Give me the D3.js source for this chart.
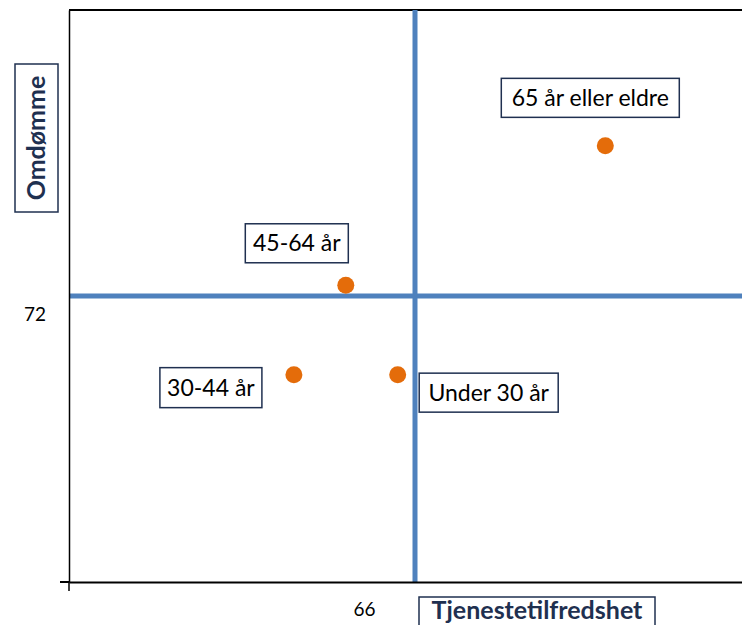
<!DOCTYPE html>
<html>
<head>
<meta charset="utf-8">
<script src="https://cdn.jsdelivr.net/npm/d3@7"></script>
<style>
  html, body { margin: 0; padding: 0; background: #fff; }
  svg { display: block; font-family: Lato, "Open Sans", sans-serif; }
</style>
</head>
<body>
<svg id="chart" width="742" height="625"></svg>
<script>
// Age groups plotted by service satisfaction (x) against reputation (y)
const ageGroups = ["Under 30 år", "30-44 år", "45-64 år", "65 år eller eldre"];
const tjenestetilfredshet = [65.6, 63.2, 64.4, 70.4];
const omdomme = [69.8, 69.8, 72.3, 76.2];

// Quadrant dividers (averages) and their tick labels
const xDivider = 66;
const yDivider = 72;
const xTickLabels = ["66"];
const yTickLabels = ["72"];

const xTitle = "Tjenestetilfredshet";
const yTitle = "Omdømme";

// Placement of each group's label box relative to its point
const labelLayout = {
  "Under 30 år":       { dx: 91,  dy: 18,  w: 139, h: 39 },
  "30-44 år":          { dx: -83, dy: 13,  w: 102, h: 40 },
  "45-64 år":          { dx: -49, dy: -42, w: 103, h: 39 },
  "65 år eller eldre": { dx: -15, dy: -48, w: 178, h: 39 }
};

const svg = d3.select("#chart");
const plotLeft = 69, plotTop = 10, plotBottom = 582, plotRight = 761;

const x = d3.scaleLinear().domain([58, 74]).range([plotLeft, plotRight]);
const y = d3.scaleLinear().domain([64, 80]).range([plotBottom, plotTop]);

const points = ageGroups.map((g, i) => ({ group: g, x: tjenestetilfredshet[i], y: omdomme[i] }));

// Plot frame (top edge)
svg.append("line")
  .attr("x1", plotLeft).attr("x2", plotRight)
  .attr("y1", plotTop).attr("y2", plotTop)
  .attr("stroke", "#000").attr("stroke-width", 2);

// Quadrant divider lines
svg.append("line")
  .attr("x1", x(xDivider)).attr("x2", x(xDivider))
  .attr("y1", plotTop).attr("y2", plotBottom)
  .attr("stroke", "#4f81bd").attr("stroke-width", 5);
svg.append("line")
  .attr("x1", plotLeft).attr("x2", plotRight)
  .attr("y1", y(yDivider)).attr("y2", y(yDivider))
  .attr("stroke", "#4f81bd").attr("stroke-width", 5);

// Axes
const xAxis = svg.append("g")
  .attr("transform", `translate(0,${plotBottom})`)
  .call(d3.axisBottom(x).tickValues([xDivider]).tickFormat((d, i) => xTickLabels[i]).tickSize(0).tickSizeOuter(0));
xAxis.select(".domain").attr("stroke", "#000").attr("stroke-width", 2);
xAxis.selectAll(".tick text")
  .attr("font-family", "Lato, sans-serif").attr("font-size", 19).attr("fill", "#000")
  .attr("dx", -51).attr("dy", 31);

const yAxis = svg.append("g")
  .attr("transform", `translate(${plotLeft},0)`)
  .call(d3.axisLeft(y).tickValues([yDivider]).tickFormat((d, i) => yTickLabels[i]).tickSize(0).tickSizeOuter(0));
yAxis.select(".domain").attr("stroke", "#000").attr("stroke-width", 1.5);
yAxis.selectAll(".tick text")
  .attr("font-family", "Lato, sans-serif").attr("font-size", 19).attr("fill", "#000")
  .attr("text-anchor", "middle").attr("x", -34).attr("dy", 24);

// Origin cross mark
svg.append("line")
  .attr("x1", plotLeft - 9).attr("x2", plotLeft)
  .attr("y1", plotBottom).attr("y2", plotBottom)
  .attr("stroke", "#000").attr("stroke-width", 2);
svg.append("line")
  .attr("x1", plotLeft).attr("x2", plotLeft)
  .attr("y1", plotBottom).attr("y2", plotBottom + 9)
  .attr("stroke", "#000").attr("stroke-width", 1.5);

// Axis titles in boxes
const navy = "#1f3050";
const xt = svg.append("g").attr("transform", `translate(${x(xDivider) + 122},${plotBottom + 28})`);
xt.append("rect").attr("x", -118).attr("y", -13).attr("width", 236).attr("height", 40)
  .attr("fill", "#fff").attr("stroke", navy).attr("stroke-width", 1.5);
xt.append("text").attr("text-anchor", "middle").attr("dy", "0.35em")
  .attr("font-size", 25).attr("font-weight", "bold").attr("fill", navy).text(xTitle);

const yt = svg.append("g").attr("transform", "translate(36.5,138) rotate(-90)");
yt.append("rect").attr("x", -74).attr("y", -21.5).attr("width", 148).attr("height", 43)
  .attr("fill", "#fff").attr("stroke", navy).attr("stroke-width", 1.5);
yt.append("text").attr("text-anchor", "middle").attr("dy", "0.35em")
  .attr("font-size", 25).attr("font-weight", "bold").attr("fill", navy).text(yTitle);

// Points
svg.selectAll("circle.pt").data(points).join("circle")
  .attr("class", "pt")
  .attr("cx", d => x(d.x)).attr("cy", d => y(d.y)).attr("r", 8.5)
  .attr("fill", "#e46c0a");

// Point labels
const labels = svg.selectAll("g.lbl").data(points).join("g")
  .attr("class", "lbl")
  .attr("transform", d => {
    const L = labelLayout[d.group];
    return `translate(${x(d.x) + L.dx},${y(d.y) + L.dy})`;
  });
labels.append("rect")
  .attr("x", d => -labelLayout[d.group].w / 2).attr("y", d => -labelLayout[d.group].h / 2)
  .attr("width", d => labelLayout[d.group].w).attr("height", d => labelLayout[d.group].h)
  .attr("fill", "#fff").attr("stroke", navy).attr("stroke-width", 1.5);
labels.append("text")
  .attr("text-anchor", "middle").attr("dy", "0.35em")
  .attr("font-size", 23).attr("fill", "#000")
  .text(d => d.group);
</script>
</body>
</html>
